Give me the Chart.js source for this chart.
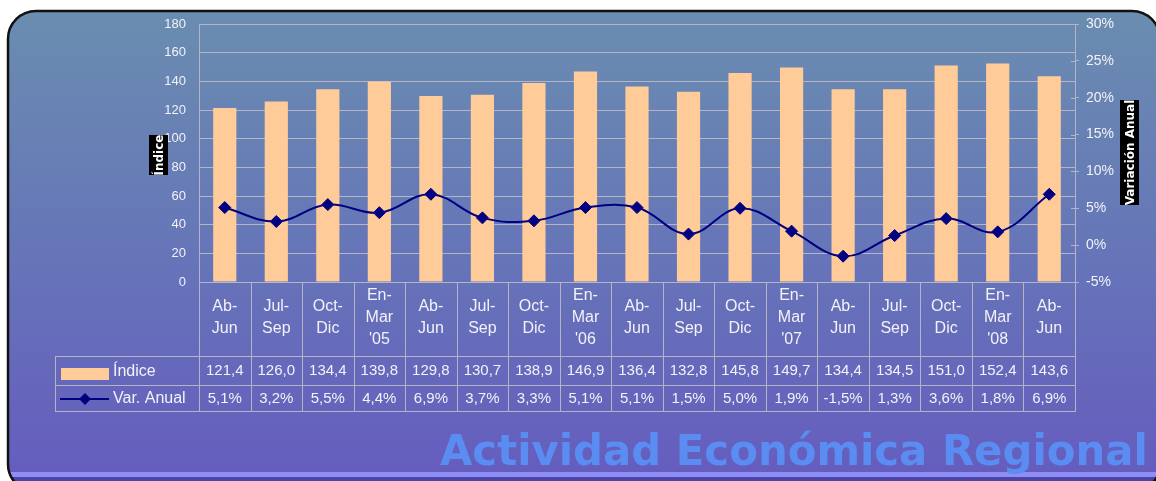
<!DOCTYPE html>
<html><head><meta charset="utf-8">
<script src="https://cdn.jsdelivr.net/npm/chart.js@4/dist/chart.umd.min.js"></script>
<style>html,body{margin:0;padding:0;background:#fff;overflow:hidden}#wrap{width:1156px;height:481px;position:relative}canvas{display:block}</style>
</head><body><div id="wrap"><canvas id="c" width="1156" height="481"></canvas></div>
<script>
// ---- data ----
const categories = [
  ['Ab-','Jun'],['Jul-','Sep'],['Oct-','Dic'],['En-','Mar',"'05"],
  ['Ab-','Jun'],['Jul-','Sep'],['Oct-','Dic'],['En-','Mar',"'06"],
  ['Ab-','Jun'],['Jul-','Sep'],['Oct-','Dic'],['En-','Mar',"'07"],
  ['Ab-','Jun'],['Jul-','Sep'],['Oct-','Dic'],['En-','Mar',"'08"],
  ['Ab-','Jun']
];
const indice   = [121.4,126.0,134.4,139.8,129.8,130.7,138.9,146.9,136.4,132.8,145.8,149.7,134.4,134.5,151.0,152.4,143.6];
const varAnual = [5.1,3.2,5.5,4.4,6.9,3.7,3.3,5.1,5.1,1.5,5.0,1.9,-1.5,1.3,3.6,1.8,6.9];
const seriesNames = ['Índice','Var. Anual'];
const axisTitles = ['Índice','Variación Anual'];
const leftAxis  = {min:0, max:180, step:20};
const rightAxis = {min:-5, max:30, step:5};
const watermark = 'Actividad Económica Regional';

// ---- styles ----
const GRID = '#b4b4c4';
const TXT = '#f2f2f8';
const FONT = '"Liberation Sans", Arial, sans-serif';
const BAR = '#FFCC99';
const LINE = '#000080';

function fmt(v){ return v.toFixed(1).replace('.', ','); }

const bgPlugin = {
  id:'bg',
  beforeDraw(chart){
    const ctx = chart.ctx, W = chart.width, H = chart.height;
    ctx.save();
    ctx.fillStyle = '#ffffff';
    ctx.fillRect(0,0,W,H);
    const fx=8, fy=11, fw=1160-8, fh=492-11, r=28;
    ctx.beginPath();
    ctx.roundRect(fx,fy,fw,fh,r);
    const g = ctx.createLinearGradient(0,fy,0,H);
    g.addColorStop(0,'#6A8DB0');
    g.addColorStop(0.5,'#6676B8');
    g.addColorStop(1,'#655CBE');
    ctx.fillStyle = g;
    ctx.fill();
    ctx.save();
    ctx.clip();
    ctx.fillStyle = '#8E8EF6';
    ctx.fillRect(0,472,W,5);
    ctx.fillStyle = '#4C44A6';
    ctx.fillRect(0,477,W,8);
    // watermark
    let size = 46;
    ctx.font = 'bold '+size+'px "DejaVu Sans", Verdana, sans-serif';
    const mw = ctx.measureText(watermark).width;
    size = size * 708 / mw;
    ctx.font = 'bold '+size.toFixed(2)+'px "DejaVu Sans", Verdana, sans-serif';
    ctx.fillStyle = '#5A8CF2';
    ctx.textAlign = 'left';
    ctx.textBaseline = 'alphabetic';
    ctx.fillText(watermark, 440, 465);
    ctx.restore();
    ctx.beginPath();
    ctx.roundRect(fx,fy,fw,fh,r);
    ctx.lineWidth = 2.5;
    ctx.strokeStyle = '#111';
    ctx.stroke();
    ctx.restore();
  },
  afterDraw(chart){
    const ctx = chart.ctx, a = chart.chartArea, xs = chart.scales.x, y1 = chart.scales.y1;
    const n = categories.length;
    const w = (a.right - a.left)/n;
    const tableLeft = 55, r1 = 356, r2 = 385, r3 = 411;
    ctx.save();
    ctx.strokeStyle = GRID;
    ctx.lineWidth = 1;
    ctx.beginPath();
    for(let i=0;i<=n;i++){
      const x = Math.round(xs.getPixelForValue(0) - w/2 + i*w) + 0.5;
      ctx.moveTo(x, a.bottom); ctx.lineTo(x, r3);
    }
    ctx.moveTo(tableLeft+0.5, r1); ctx.lineTo(tableLeft+0.5, r3);
    [r1,r2,r3].forEach(y=>{ ctx.moveTo(tableLeft, y+0.5); ctx.lineTo(a.right+1, y+0.5); });
    // right axis ticks crossing inward
    y1.ticks.forEach(t=>{
      const y = Math.round(y1.getPixelForValue(t.value))+0.5;
      ctx.moveTo(a.right-4, y); ctx.lineTo(a.right, y);
    });
    ctx.stroke();

    // category labels
    ctx.fillStyle = TXT;
    ctx.textAlign = 'center';
    ctx.textBaseline = 'middle';
    ctx.font = '16px '+FONT;
    categories.forEach((lines,i)=>{
      const x = xs.getPixelForValue(i);
      const y0 = 318 - (lines.length-1)*22/2;
      lines.forEach((s,j)=> ctx.fillText(s, x, y0 + j*22));
    });
    // values
    ctx.font = '15px '+FONT;
    indice.forEach((v,i)=> ctx.fillText(fmt(v), xs.getPixelForValue(i), 371));
    varAnual.forEach((v,i)=> ctx.fillText(fmt(v)+'%', xs.getPixelForValue(i), 399));

    // legend keys
    const ds = chart.data.datasets;
    ctx.fillStyle = ds[0].backgroundColor;
    ctx.fillRect(61,368,48,12);
    ctx.strokeStyle = ds[1].borderColor;
    ctx.lineWidth = 2;
    ctx.beginPath(); ctx.moveTo(60,399); ctx.lineTo(109,399); ctx.stroke();
    ctx.fillStyle = ds[1].borderColor;
    ctx.beginPath(); ctx.moveTo(85,393); ctx.lineTo(91,399); ctx.lineTo(85,405); ctx.lineTo(79,399); ctx.closePath(); ctx.fill();
    ctx.fillStyle = TXT;
    ctx.textAlign = 'left';
    ctx.font = '16px '+FONT;
    ctx.fillText(ds[0].label, 113, 372);
    ctx.fillText(ds[1].label, 113, 399);

    // axis titles in black boxes
    function vTitle(text, bx, by, bw, bh){
      ctx.save();
      ctx.fillStyle = '#000';
      ctx.fillRect(bx,by,bw,bh);
      ctx.beginPath(); ctx.rect(bx,by,bw,bh); ctx.clip();
      ctx.translate(bx+bw/2+1, by+bh/2);
      ctx.rotate(-Math.PI/2);
      ctx.fillStyle = '#fff';
      ctx.font = 'bold 12px "DejaVu Sans", sans-serif';
      ctx.textAlign = 'center';
      ctx.textBaseline = 'middle';
      ctx.fillText(text, 0, 0);
      ctx.restore();
    }
    vTitle(axisTitles[0], 149, 135, 19, 40);
    vTitle(axisTitles[1], 1120, 100, 19, 105);
    ctx.restore();
  }
};

new Chart(document.getElementById('c'), {
  type:'bar',
  data:{
    labels: categories,
    datasets:[
      {type:'bar', label:seriesNames[0], data:indice, yAxisID:'y', backgroundColor:BAR, borderWidth:0,
       barPercentage:0.45, categoryPercentage:1.0, order:2},
      {type:'line', label:seriesNames[1], data:varAnual, yAxisID:'y1', borderColor:LINE, borderWidth:2,
       backgroundColor:LINE, pointStyle:'rectRot', pointRadius:6, pointBackgroundColor:LINE, pointBorderColor:LINE,
       pointBorderWidth:1, tension:0.4, fill:false, order:1}
    ]
  },
  options:{
    responsive:false, devicePixelRatio:1, animation:false,
    layout:{padding:{top:24,left:0,right:0,bottom:0}},
    plugins:{legend:{display:false}, tooltip:{enabled:false}, title:{display:false}},
    scales:{
      x:{offset:true, grid:{display:false, drawTicks:false}, border:{display:true,color:GRID},
         ticks:{display:false}, afterFit(s){ s.height = 199; }},
      y:{position:'left', min:leftAxis.min, max:leftAxis.max,
         ticks:{stepSize:leftAxis.step, color:TXT, font:{family:FONT,size:13}, padding:13},
         grid:{color:GRID, drawTicks:false}, border:{color:GRID},
         afterFit(s){ s.width = 199; }},
      y1:{position:'right', min:rightAxis.min, max:rightAxis.max,
         ticks:{stepSize:rightAxis.step, color:TXT, font:{family:FONT,size:14}, padding:7, callback:v=>v+'%'},
         grid:{drawOnChartArea:false, drawTicks:true, tickLength:4, color:GRID}, border:{color:GRID},
         afterFit(s){ s.width = 81; }}
    }
  },
  plugins:[bgPlugin]
});
</script></body></html>
